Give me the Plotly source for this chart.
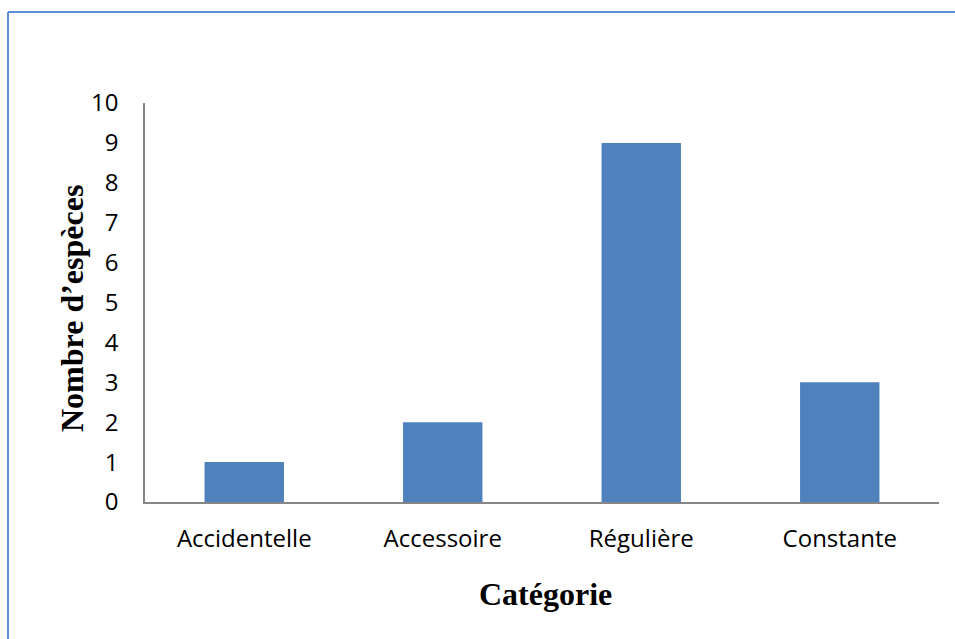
import plotly.graph_objects as go

# Number of species per occurrence category
categories = ["Accidentelle", "Accessoire", "Régulière", "Constante"]
species_count = [1, 2, 9, 3]
y_ticks = list(range(0, 11))

W, H = 955, 639
L, R, T, B = 145, 16, 103, 137
plot_w = W - L - R
plot_h = H - T - B


def px_x(px):
    return (px - L) / plot_w


def px_y(py):
    return (H - B - py) / plot_h


fig = go.Figure(
    go.Bar(
        x=categories,
        y=species_count,
        marker=dict(color="#4F81BD", line=dict(width=0)),
        width=0.4,
    )
)

tick_font = dict(family="Open Sans, Noto Sans, sans-serif", size=24, color="#000000")
title_font = dict(family="Liberation Serif, Times New Roman, serif", size=32, color="#000000")

fig.update_layout(
    width=W,
    height=H,
    margin=dict(l=L, r=R, t=T, b=B, pad=0),
    paper_bgcolor="white",
    plot_bgcolor="white",
    showlegend=False,
    xaxis=dict(
        type="category",
        range=[-0.5, 3.5],
        showline=True,
        linecolor="#868686",
        linewidth=1.5,
        showgrid=False,
        ticks="",
        tickfont=tick_font,
        ticklabelstandoff=14,
        zeroline=False,
    ),
    yaxis=dict(
        range=[0, 10],
        tickvals=y_ticks,
        showline=True,
        linecolor="#868686",
        linewidth=1.5,
        showgrid=False,
        ticks="",
        tickfont=tick_font,
        ticklabelstandoff=20,
        zeroline=False,
    ),
    annotations=[
        dict(
            text="<b>Nombre d’espèces</b>",
            xref="paper", yref="paper",
            x=px_x(72), y=px_y(309),
            xanchor="center", yanchor="middle",
            textangle=-90, showarrow=False,
            font=title_font,
        ),
        dict(
            text="<b>Catégorie</b>",
            xref="paper", yref="paper",
            x=px_x(545), y=px_y(594),
            xanchor="center", yanchor="middle",
            showarrow=False,
            font=title_font,
        ),
    ],
    shapes=[
        # frame around the chart (top and left edges visible)
        dict(type="line", xref="paper", yref="paper",
             x0=px_x(8), x1=px_x(8), y0=px_y(700), y1=px_y(12),
             line=dict(color="#5B8FD8", width=2)),
        dict(type="line", xref="paper", yref="paper",
             x0=px_x(8), x1=px_x(1000), y0=px_y(12), y1=px_y(12),
             line=dict(color="#5B8FD8", width=2)),
    ],
)

fig.write_html("out.html")
